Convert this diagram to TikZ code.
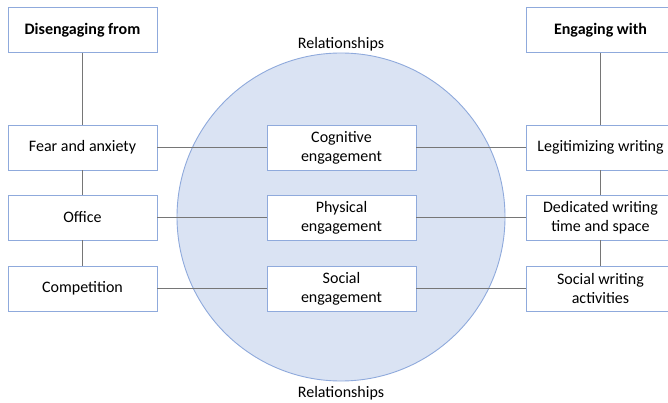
\documentclass[tikz,border=0pt]{standalone}
\usepackage{fontspec}
\setmainfont{Carlito}
\definecolor{boxline}{HTML}{8FAADC}
\definecolor{circfill}{HTML}{DAE3F3}
\definecolor{connline}{HTML}{767676}
\begin{document}
\begin{tikzpicture}[x=1pt,y=-1pt,
    box/.style={draw=boxline,line width=0.9pt,fill=white,minimum width=149pt,minimum height=45pt,
      inner sep=0pt,align=center,font=\fontsize{16}{19}\selectfont},
    title/.style={box,font=\fontsize{16}{19}\selectfont\bfseries},
    conn/.style={draw=connline,line width=0.9pt}]
  \useasboundingbox (0,0) rectangle (668,403);
  \fill [circfill,draw=boxline,line width=0.9pt] (341,217) circle [radius=164];
  \node (reltop) at (341,44) {\fontsize{16}{19}\selectfont Relationships};
  \node (relbot) at (341,393) {\fontsize{16}{19}\selectfont Relationships};
  \node [title] (disengage) at (82.5,30) {Disengaging from};
  \node [box] (fear) at (82.5,147.5) {Fear and anxiety};
  \node [box] (office) at (82.5,217.5) {Office};
  \node [box] (competition) at (82.5,288.5) {Competition};
  \node [box] (cognitive) at (341.5,147.5) {Cognitive\\engagement};
  \node [box] (physical) at (341.5,217.5) {Physical\\engagement};
  \node [box] (social) at (341.5,288.5) {Social\\engagement};
  \node [title] (engage) at (600.5,30) {Engaging with};
  \node [box] (legit) at (600.5,147.5) {Legitimizing writing};
  \node [box] (dedicated) at (600.5,217.5) {Dedicated writing\\time and space};
  \node [box] (socialwr) at (600.5,288.5) {Social writing\\activities};
  \draw [conn] (disengage) -- (fear);
  \draw [conn] (fear) -- (office);
  \draw [conn] (office) -- (competition);
  \draw [conn] (engage) -- (legit);
  \draw [conn] (legit) -- (dedicated);
  \draw [conn] (dedicated) -- (socialwr);
  \draw [conn] (fear) -- (cognitive);
  \draw [conn] (cognitive) -- (legit);
  \draw [conn] (office) -- (physical);
  \draw [conn] (physical) -- (dedicated);
  \draw [conn] (competition) -- (social);
  \draw [conn] (social) -- (socialwr);
\end{tikzpicture}
\end{document}
